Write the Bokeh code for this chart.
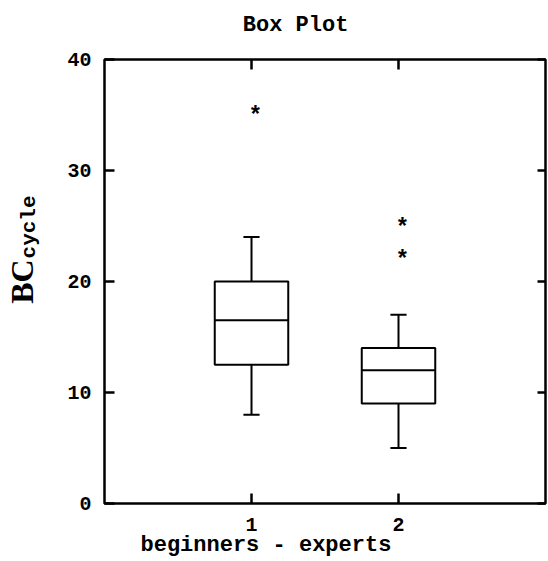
import math
import numpy as np
from bokeh.plotting import figure
from bokeh.models import Range1d, LinearAxis, FixedTicker, ColumnDataSource, Title
from bokeh.core.properties import value
from bokeh.embed import file_html
from bokeh.resources import INLINE

# ---- data ----
groups = [1, 2]
whisker_low = [8.0, 5.0]
q1 = [12.5, 9.0]
median = [16.5, 12.0]
q3 = [20.0, 14.0]
whisker_high = [24.0, 17.0]
outlier_group = [1, 2, 2]
outlier_value = [35.4, 25.3, 22.4]
y_ticks = [0, 10, 20, 30, 40]
x_ticks = [1, 2]
title_text = "Box Plot"
x_label = "beginners - experts"
y_label_main = "BC"
y_label_sub = "cycle"

MONO = "Liberation Mono"
SERIF = "Liberation Serif"
BOX_W = 0.5
CAP_W = 0.11
TITLE_POS = 1.30      # x position of the title centre, in data units
SUB_POS = 27.75       # y position where the "cycle" subscript ends, in data units

p = figure(width=548, height=556, output_backend="svg", toolbar_location=None,
           x_range=Range1d(0, 3), y_range=Range1d(0, 40),
           min_border_left=104, min_border_right=3, min_border_top=59, min_border_bottom=53)
p.outline_line_color = "black"
p.outline_line_width = 2.5
p.xgrid.visible = False
p.ygrid.visible = False
p.background_fill_color = "white"
p.border_fill_color = "white"

def style_axis(ax, ticks, tick_in, show_labels=True):
    ax.ticker = FixedTicker(ticks=ticks)
    ax.major_tick_in = tick_in
    ax.major_tick_out = 0
    ax.minor_tick_in = 0
    ax.minor_tick_out = 0
    ax.axis_line_color = None
    ax.major_tick_line_width = 2.5
    ax.major_tick_line_color = "black"
    ax.major_label_text_font = MONO
    ax.major_label_text_font_style = "bold"
    ax.major_label_text_font_size = "20px"
    ax.major_label_text_color = "black"
    if not show_labels:
        ax.major_label_overrides = {t: "" for t in ticks}
        ax.major_label_standoff = 0
        ax.major_label_text_font_size = "1px"

def text_axis(tick, label, font, size, standoff, orientation="horizontal"):
    ax = LinearAxis()
    ax.ticker = FixedTicker(ticks=[tick])
    ax.major_label_overrides = {tick: label}
    ax.major_label_orientation = orientation
    ax.major_label_standoff = standoff
    ax.major_label_text_font = font
    ax.major_label_text_font_style = "bold"
    ax.major_label_text_font_size = size
    ax.major_label_text_color = "black"
    ax.major_tick_in = 0
    ax.major_tick_out = 0
    ax.minor_tick_in = 0
    ax.minor_tick_out = 0
    ax.major_tick_line_color = None
    ax.minor_tick_line_color = None
    ax.axis_line_color = None
    return ax

# left axis with numbers
style_axis(p.yaxis[0], y_ticks, 10)
p.yaxis[0].major_label_standoff = 13

# bottom axis with numbers
xa = p.xaxis[0]
style_axis(xa, x_ticks, 10)
xa.major_label_standoff = 14

# frame ticks on top and right
top_axis = LinearAxis()
style_axis(top_axis, x_ticks, 10, show_labels=False)
p.add_layout(top_axis, "above")
right_axis = LinearAxis()
style_axis(right_axis, y_ticks, 8, show_labels=False)
p.add_layout(right_axis, "right")

# title, placed off-centre like the reference
p.add_layout(text_axis(TITLE_POS, title_text, MONO, "22px", 22), "above")

# x label, placed left of centre as in the reference
x_title = Title(text=x_label, align="left", offset=36, standoff=-6,
                text_font=MONO, text_font_style="bold", text_font_size="22px", text_color="black")
p.add_layout(x_title, "below")

# y label: "BC" with subscript "cycle"
ya2 = text_axis(SUB_POS, y_label_sub, MONO, "21px", 35, orientation=math.pi / 2)
ya2.axis_label = y_label_main
ya2.axis_label_standoff = -36
ya2.axis_label_text_font = SERIF
ya2.axis_label_text_font_style = "bold"
ya2.axis_label_text_font_size = "32px"
ya2.axis_label_text_color = "black"
p.add_layout(ya2, "left")

g = np.array(groups, dtype=float)
src = ColumnDataSource(dict(
    x=g, q1=q1, q3=q3, med=median, lo=whisker_low, hi=whisker_high,
    left=g - BOX_W / 2, right=g + BOX_W / 2,
    cl=g - CAP_W / 2, cr=g + CAP_W / 2,
))

# whiskers
p.segment(x0="x", y0="q3", x1="x", y1="hi", source=src, line_color="black", line_width=2)
p.segment(x0="x", y0="lo", x1="x", y1="q1", source=src, line_color="black", line_width=2)
p.segment(x0="cl", y0="hi", x1="cr", y1="hi", source=src, line_color="black", line_width=2)
p.segment(x0="cl", y0="lo", x1="cr", y1="lo", source=src, line_color="black", line_width=2)
# boxes
p.vbar(x="x", width=BOX_W, bottom="q1", top="q3", source=src,
       fill_color="white", line_color="black", line_width=2)
# medians
p.segment(x0="left", y0="med", x1="right", y1="med", source=src, line_color="black", line_width=2)

# outliers as asterisks
p.text(x=outlier_group, y=outlier_value, text=["*"] * len(outlier_value),
       text_font=value(MONO), text_font_style="bold", text_font_size="23px",
       text_align="center", text_baseline="middle", x_offset=4, y_offset=6,
       text_color="black")

open("out.html", "w").write(file_html(p, INLINE))
